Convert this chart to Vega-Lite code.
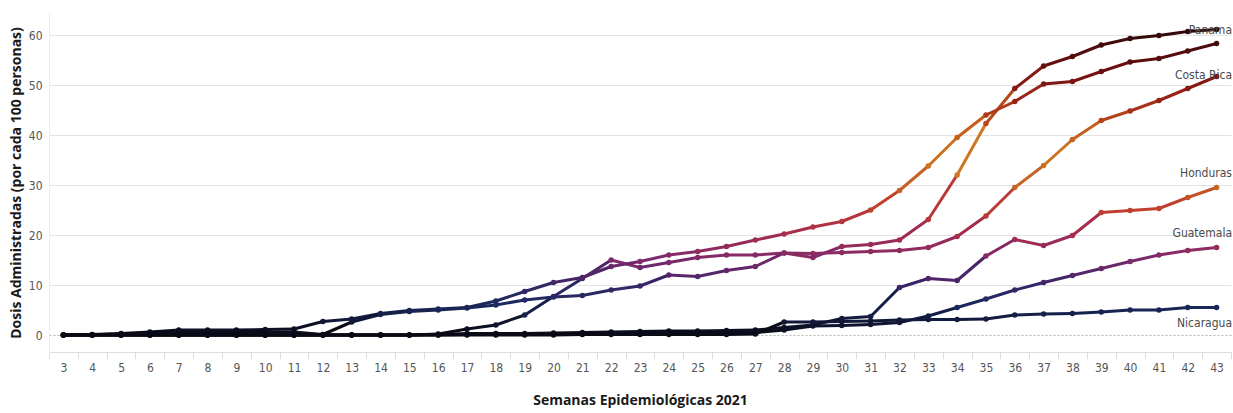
{
  "$schema": "https://vega.github.io/schema/vega-lite/v6.json",
  "width": 1182,
  "height": 339,
  "autosize": {"type": "none"},
  "padding": {"left": 49, "top": 13, "right": 2, "bottom": 61},
  "background": "white",
  "config": {"view": {"stroke": null}, "font": "Open Sans"},
  "datasets": {
    "dosis": [
      {"week": 3, "Panama": 0, "El Salvador": 0.0, "Costa Rica": 0.0, "Honduras": 0, "Guatemala": 0, "Nicaragua": 0},
      {"week": 4, "Panama": 0, "El Salvador": 0.1, "Costa Rica": 0.05, "Honduras": 0, "Guatemala": 0, "Nicaragua": 0},
      {"week": 5, "Panama": 0, "El Salvador": 0.3, "Costa Rica": 0.2, "Honduras": 0, "Guatemala": 0, "Nicaragua": 0},
      {"week": 6, "Panama": 0, "El Salvador": 0.6, "Costa Rica": 0.4, "Honduras": 0, "Guatemala": 0, "Nicaragua": 0},
      {"week": 7, "Panama": 0, "El Salvador": 1.0, "Costa Rica": 0.5, "Honduras": 0, "Guatemala": 0, "Nicaragua": 0},
      {"week": 8, "Panama": 0, "El Salvador": 1.0, "Costa Rica": 0.5, "Honduras": 0, "Guatemala": 0, "Nicaragua": 0},
      {"week": 9, "Panama": 0, "El Salvador": 1.0, "Costa Rica": 0.5, "Honduras": 0, "Guatemala": 0, "Nicaragua": 0},
      {"week": 10, "Panama": 0, "El Salvador": 1.1, "Costa Rica": 0.6, "Honduras": 0, "Guatemala": 0, "Nicaragua": 0},
      {"week": 11, "Panama": 0, "El Salvador": 1.2, "Costa Rica": 0.6, "Honduras": 0, "Guatemala": 0, "Nicaragua": 0},
      {"week": 12, "Panama": 0, "El Salvador": 2.7, "Costa Rica": 0.1, "Honduras": 0, "Guatemala": 0, "Nicaragua": 0},
      {"week": 13, "Panama": 0, "El Salvador": 3.2, "Costa Rica": 2.6, "Honduras": 0, "Guatemala": 0, "Nicaragua": 0},
      {"week": 14, "Panama": 0, "El Salvador": 4.3, "Costa Rica": 4.1, "Honduras": 0, "Guatemala": 0, "Nicaragua": 0},
      {"week": 15, "Panama": 0, "El Salvador": 4.9, "Costa Rica": 4.7, "Honduras": 0, "Guatemala": 0, "Nicaragua": 0},
      {"week": 16, "Panama": 0.2, "El Salvador": 5.2, "Costa Rica": 5.0, "Honduras": 0.1, "Guatemala": 0, "Nicaragua": 0},
      {"week": 17, "Panama": 1.2, "El Salvador": 5.5, "Costa Rica": 5.4, "Honduras": 0.3, "Guatemala": 0.1, "Nicaragua": 0},
      {"week": 18, "Panama": 2.0, "El Salvador": 6.8, "Costa Rica": 6.0, "Honduras": 0.3, "Guatemala": 0.1, "Nicaragua": 0},
      {"week": 19, "Panama": 4.0, "El Salvador": 8.7, "Costa Rica": 7.0, "Honduras": 0.3, "Guatemala": 0.1, "Nicaragua": 0},
      {"week": 20, "Panama": 7.7, "El Salvador": 10.5, "Costa Rica": 7.6, "Honduras": 0.4, "Guatemala": 0.2, "Nicaragua": 0},
      {"week": 21, "Panama": 11.3, "El Salvador": 11.5, "Costa Rica": 7.9, "Honduras": 0.5, "Guatemala": 0.2, "Nicaragua": 0.1},
      {"week": 22, "Panama": 15.0, "El Salvador": 13.7, "Costa Rica": 9.0, "Honduras": 0.6, "Guatemala": 0.3, "Nicaragua": 0.1},
      {"week": 23, "Panama": 13.5, "El Salvador": 14.7, "Costa Rica": 9.8, "Honduras": 0.7, "Guatemala": 0.3, "Nicaragua": 0.1},
      {"week": 24, "Panama": 14.5, "El Salvador": 16.0, "Costa Rica": 12.0, "Honduras": 0.8, "Guatemala": 0.4, "Nicaragua": 0.1},
      {"week": 25, "Panama": 15.5, "El Salvador": 16.7, "Costa Rica": 11.7, "Honduras": 0.8, "Guatemala": 0.4, "Nicaragua": 0.1},
      {"week": 26, "Panama": 16.0, "El Salvador": 17.7, "Costa Rica": 12.9, "Honduras": 0.9, "Guatemala": 0.5, "Nicaragua": 0.1},
      {"week": 27, "Panama": 16.0, "El Salvador": 19.0, "Costa Rica": 13.7, "Honduras": 1.0, "Guatemala": 0.5, "Nicaragua": 0.2},
      {"week": 28, "Panama": 16.4, "El Salvador": 20.2, "Costa Rica": 16.4, "Honduras": 1.5, "Guatemala": 1.0, "Nicaragua": 2.6},
      {"week": 29, "Panama": 15.5, "El Salvador": 21.6, "Costa Rica": 16.3, "Honduras": 2.0, "Guatemala": 1.8, "Nicaragua": 2.6},
      {"week": 30, "Panama": 17.7, "El Salvador": 22.7, "Costa Rica": 16.5, "Honduras": 3.3, "Guatemala": 1.9, "Nicaragua": 2.7},
      {"week": 31, "Panama": 18.1, "El Salvador": 25.0, "Costa Rica": 16.7, "Honduras": 3.7, "Guatemala": 2.1, "Nicaragua": 2.8},
      {"week": 32, "Panama": 19.0, "El Salvador": 28.9, "Costa Rica": 16.9, "Honduras": 9.5, "Guatemala": 2.5, "Nicaragua": 3.0},
      {"week": 33, "Panama": 23.1, "El Salvador": 33.8, "Costa Rica": 17.5, "Honduras": 11.3, "Guatemala": 3.8, "Nicaragua": 3.1},
      {"week": 34, "Panama": 32.0, "El Salvador": 39.5, "Costa Rica": 19.7, "Honduras": 10.9, "Guatemala": 5.5, "Nicaragua": 3.1},
      {"week": 35, "Panama": 42.3, "El Salvador": 44.0, "Costa Rica": 23.8, "Honduras": 15.8, "Guatemala": 7.2, "Nicaragua": 3.2},
      {"week": 36, "Panama": 49.3, "El Salvador": 46.7, "Costa Rica": 29.5, "Honduras": 19.1, "Guatemala": 9.0, "Nicaragua": 4.0},
      {"week": 37, "Panama": 53.8, "El Salvador": 50.2, "Costa Rica": 33.9, "Honduras": 17.9, "Guatemala": 10.5, "Nicaragua": 4.2},
      {"week": 38, "Panama": 55.7, "El Salvador": 50.7, "Costa Rica": 39.1, "Honduras": 19.9, "Guatemala": 11.9, "Nicaragua": 4.3},
      {"week": 39, "Panama": 58.0, "El Salvador": 52.7, "Costa Rica": 42.9, "Honduras": 24.5, "Guatemala": 13.3, "Nicaragua": 4.6},
      {"week": 40, "Panama": 59.3, "El Salvador": 54.6, "Costa Rica": 44.8, "Honduras": 24.9, "Guatemala": 14.7, "Nicaragua": 5.0},
      {"week": 41, "Panama": 59.9, "El Salvador": 55.3, "Costa Rica": 46.9, "Honduras": 25.3, "Guatemala": 16.0, "Nicaragua": 5.0},
      {"week": 42, "Panama": 60.7, "El Salvador": 56.8, "Costa Rica": 49.3, "Honduras": 27.5, "Guatemala": 16.9, "Nicaragua": 5.5},
      {"week": 43, "Panama": 61.1, "El Salvador": 58.3, "Costa Rica": 51.7, "Honduras": 29.5, "Guatemala": 17.5, "Nicaragua": 5.5}
    ],
    "etiquetas": [
      {"label": "Panama", "week": 43.5, "value": 61.0},
      {"label": "Costa Rica", "week": 43.5, "value": 52.0},
      {"label": "Honduras", "week": 43.5, "value": 32.4},
      {"label": "Guatemala", "week": 43.5, "value": 20.4},
      {"label": "Nicaragua", "week": 43.5, "value": 2.4}
    ]
  },
  "encoding": {
    "x": {
      "field": "week",
      "type": "quantitative",
      "scale": {"domain": [2.5, 43.5], "nice": false, "zero": false},
      "axis": {
        "title": "Semanas Epidemiológicas 2021",
        "titleFont": "Open Sans",
        "titleFontSize": 14,
        "titleFontWeight": "bold",
        "titleColor": "#1a1a1a",
        "titlePadding": 20,
        "values": [2.5, 3.5, 4.5, 5.5, 6.5, 7.5, 8.5, 9.5, 10.5, 11.5, 12.5, 13.5, 14.5, 15.5, 16.5, 17.5, 18.5, 19.5, 20.5, 21.5, 22.5, 23.5, 24.5, 25.5, 26.5, 27.5, 28.5, 29.5, 30.5, 31.5, 32.5, 33.5, 34.5, 35.5, 36.5, 37.5, 38.5, 39.5, 40.5, 41.5, 42.5, 43.5],
        "labelExpr": "datum.value < 43 ? format(datum.value + 0.5, 'd') : ''",
        "labelOffset": 14.41,
        "labelOverlap": false,
        "labelFlush": false,
        "labelFont": "Liberation Sans Narrow, DejaVu Sans Condensed, Roboto",
        "labelFontSize": 12,
        "labelColor": "#555555",
        "labelPadding": 3,
        "grid": false,
        "ticks": true,
        "tickSize": 7,
        "tickColor": "#dddddd",
        "domainColor": "#dddddd"
      }
    },
    "y": {
      "field": "value",
      "type": "quantitative",
      "scale": {"domain": [-3.4, 64.4], "nice": false, "zero": false},
      "axis": {
        "title": "Dosis Administradas (por cada 100 personas)",
        "titleFont": "Open Sans",
        "titleFontSize": 14,
        "titleFontWeight": "bold",
        "titleColor": "#1a1a1a",
        "titlePadding": 5,
        "values": [0, 10, 20, 30, 40, 50, 60],
        "labelFont": "Liberation Sans Narrow, DejaVu Sans Condensed, Roboto",
        "labelFontSize": 12,
        "labelColor": "#555555",
        "labelPadding": 7,
        "ticks": false,
        "domainColor": "#ececec",
        "grid": true,
        "gridColor": {"condition": {"test": "datum.value === 0", "value": "#b5b5b5"}, "value": "#e3e3e3"},
        "gridDash": {"condition": {"test": "datum.value === 0", "value": [2, 2]}, "value": []},
        "gridWidth": 1
      }
    }
  },
  "layer": [
    {
      "data": {"name": "dosis"},
      "transform": [
        {"fold": ["Panama", "El Salvador", "Costa Rica", "Honduras", "Guatemala", "Nicaragua"], "as": ["country", "value"]},
        {"window": [{"op": "lead", "field": "week", "as": "week2"}, {"op": "lead", "field": "value", "as": "value2"}], "groupby": ["country"], "sort": [{"field": "week", "order": "ascending"}]},
        {"filter": "datum.week2 != null"}
      ],
      "mark": {"type": "rule", "strokeWidth": 3, "strokeCap": "round"},
      "encoding": {
        "x2": {"field": "week2"},
        "y2": {"field": "value2"},
        "color": {
          "field": "value",
          "type": "quantitative",
          "scale": {
            "domain": [0, 3, 6, 10, 15, 20, 25, 32, 40, 46, 52, 61],
            "range": ["#0a0a16", "#121a3c", "#1c2a60", "#3c2466", "#802a6c", "#a82c4c", "#c0402c", "#cc7822", "#c45e1c", "#a02418", "#701010", "#2a0808"],
            "interpolate": "rgb"
          },
          "legend": null
        }
      }
    },
    {
      "data": {"name": "dosis"},
      "transform": [
        {"fold": ["Panama", "El Salvador", "Costa Rica", "Honduras", "Guatemala", "Nicaragua"], "as": ["country", "value"]}
      ],
      "mark": {"type": "circle", "size": 30, "opacity": 1},
      "encoding": {
        "color": {"field": "value", "type": "quantitative", "legend": null}
      }
    },
    {
      "data": {"name": "etiquetas"},
      "mark": {"type": "text", "align": "right", "baseline": "middle", "dx": 1, "fontSize": 12, "font": "Liberation Sans Narrow, DejaVu Sans Condensed, Roboto", "color": "#4a4a4a", "clip": false},
      "encoding": {
        "text": {"field": "label"}
      }
    }
  ]
}
